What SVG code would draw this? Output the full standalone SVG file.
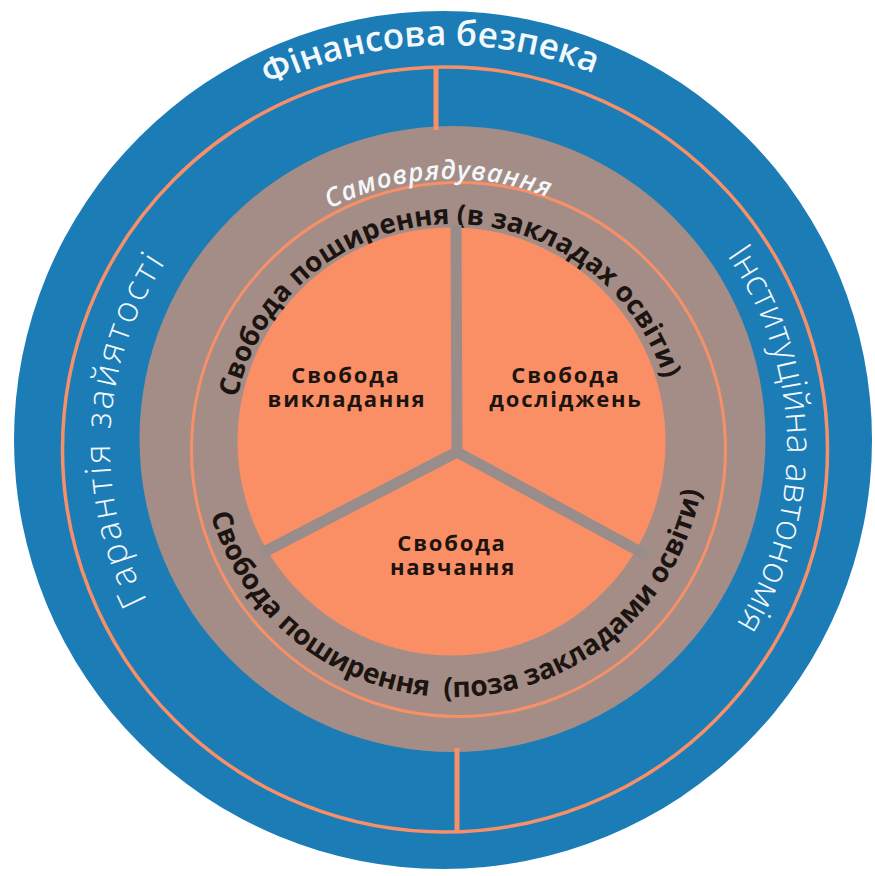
<svg xmlns="http://www.w3.org/2000/svg" width="875" height="876" viewBox="0 0 875 876">
  <style>
    .wt { fill: #f3f8fc; font-family: "Open Sans", "Liberation Sans", sans-serif; }
    .bk { fill: #1c1411; font-family: "Open Sans", "Liberation Sans", sans-serif; font-weight: 700; }
    .lbl { font-size: 22px; letter-spacing: 1.8px; text-anchor: middle; }
    .ring { fill: none; stroke: #f79068; }
    .spoke { stroke: #988d8a; stroke-width: 11; stroke-linecap: butt; fill: none; }
  </style>
  <defs>
    <path id="pFin" d="M 41,449 A 404 404 0 0 1 849,449"/>
    <path id="pGar" d="M 445,782 A 335 335 0 0 1 445,112"/>
    <path id="pInst" d="M 452,112 A 335 335 0 0 1 452,782"/>
    <path id="pSam" d="M 190,441 A 262 262 0 0 1 714,441"/>
    <path id="pTopIn" d="M 261.6,555.5 A 221 221 0 1 1 644.4,555.5"/>
    <path id="pBotIn" d="M 234.8,319 A 252 252 0 1 0 671.2,319"/>
  </defs>
  <rect width="875" height="876" fill="#ffffff"/>

  <g id="outer-blue">
    <circle cx="443" cy="440" r="429" fill="#1b7cb6"/>
    <circle class="ring" cx="445" cy="449.5" r="382.5" stroke-width="3.5"/>
    <text class="wt" font-size="35" font-weight="600"><textPath href="#pFin" startOffset="48.8%" text-anchor="middle">Фінансова безпека</textPath></text>
    <text class="wt" font-size="36" font-weight="300" letter-spacing="2.8"><textPath href="#pGar" startOffset="51.8%" text-anchor="middle">Гарантія зайятості</textPath></text>
    <text class="wt" font-size="36" font-weight="300"><textPath href="#pInst" startOffset="49.2%" text-anchor="middle">Інституційна автономія</textPath></text>
  </g>

  <g id="gray-ring">
    <circle cx="452.5" cy="439" r="313" fill="#a38d86"/>
    <circle class="ring" cx="458.5" cy="449.5" r="267" stroke-width="3"/>
    <text class="wt" font-size="26" font-weight="600" font-style="italic" letter-spacing="1"><textPath href="#pSam" startOffset="48.3%" text-anchor="middle">Самоврядування</textPath></text>
    <text class="bk" font-size="27.5"><textPath href="#pTopIn" startOffset="48.96%" text-anchor="middle">Свобода поширення (в закладах освіти)</textPath></text>
    <text class="bk" font-size="28" xml:space="preserve"><textPath href="#pBotIn" startOffset="51.15%" text-anchor="middle">Свобода поширення  (поза закладами освіти)</textPath></text>
  </g>

  <g id="core">
    <circle cx="451.5" cy="441.5" r="214" fill="#fa8f66"/>
  </g>

  <g id="connectors">
    <line class="spoke" x1="456" y1="225" x2="457" y2="452"/>
    <line class="spoke" x1="457" y1="452" x2="262" y2="553"/>
    <line class="spoke" x1="457" y1="452" x2="648" y2="556"/>
    <line x1="436" y1="67" x2="436" y2="130" stroke="#f79068" stroke-width="5"/>
    <line x1="457" y1="748" x2="457" y2="832" stroke="#f79068" stroke-width="5"/>
  </g>

  <g id="teaching">
    <text class="bk lbl"><tspan x="346" y="383">Свобода</tspan><tspan x="347" y="407">викладання</tspan></text>
  </g>
  <g id="research">
    <text class="bk lbl"><tspan x="566" y="383">Свобода</tspan><tspan x="566" y="407">досліджень</tspan></text>
  </g>
  <g id="learning">
    <text class="bk lbl"><tspan x="452" y="551">Свобода</tspan><tspan x="453" y="575">навчання</tspan></text>
  </g>
</svg>
